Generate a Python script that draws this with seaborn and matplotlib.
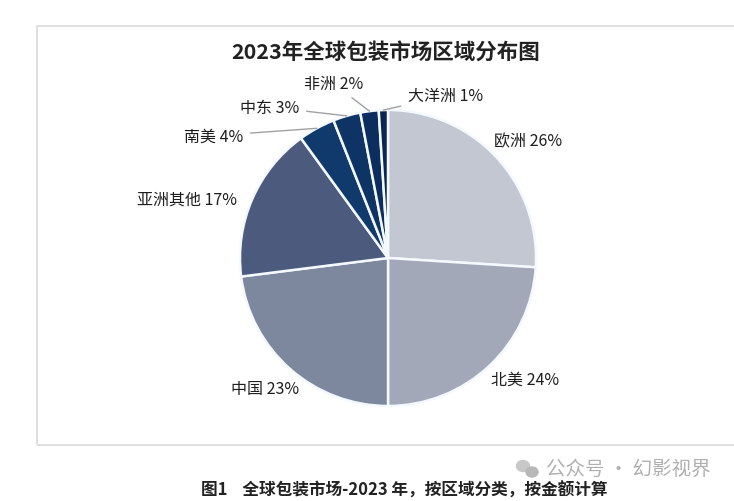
import numpy as np
import matplotlib
matplotlib.use('Agg')
import matplotlib.pyplot as plt
import seaborn as sns
from matplotlib.patches import Rectangle, Ellipse

# data
regions = ['欧洲', '北美', '中国', '亚洲其他', '南美', '中东', '非洲', '大洋洲']
shares = [26, 24, 23, 17, 4, 3, 2, 1]
colors = ['#c3c7d1', '#a3a8b8', '#7d879d', '#4c5a7e',
          '#113a6c', '#0e3466', '#0b2e5e', '#0a2650']

sns.set_theme(style="white")
plt.rcParams['font.family'] = ['Noto Sans CJK SC', 'DejaVu Sans']

W, H = 734, 502
fig = plt.figure(figsize=(W / 100, H / 100), dpi=100)
fig.patch.set_facecolor('white')

# light frame around the chart
fig.patches.append(Rectangle((37 / W, 1 - 446 / H), 720 / W, 419 / H,
                             transform=fig.transFigure, fill=False,
                             edgecolor='#dddddd', linewidth=1.3))

cx, cy, r = 388, 259, 148
ax = fig.add_axes([(cx - 1.25 * r) / W, (H - cy - 1.25 * r) / H,
                   2.5 * r / W, 2.5 * r / H])
wedges, _ = ax.pie(shares, colors=colors, startangle=90, counterclock=False,
                   radius=1, wedgeprops=dict(edgecolor='#f4f9ff', linewidth=1.8))
ax.set_xlim(-1.25, 1.25)
ax.set_ylim(-1.25, 1.25)
ax.set_aspect('equal')
ax.axis('off')

# label placement (text centres, data units)
label_pos = [(0.946, 0.79), (0.926, -0.818), (-0.83, -0.885), (-1.36, 0.40),
             (-1.18, 0.826), (-0.80, 1.02), (-0.37, 1.18), (0.39, 1.095)]
leader = [False, False, False, False, True, True, True, True]

for w, name, val, pos, lead in zip(wedges, regions, shares, label_pos, leader):
    txt = f'{name} {val}%'
    if lead:
        mid = np.deg2rad((w.theta1 + w.theta2) / 2)
        ax.annotate(txt, xy=(np.cos(mid), np.sin(mid)), xytext=pos,
                    ha='center', va='center', fontsize=11.5, color='#1e1e1e',
                    arrowprops=dict(arrowstyle='-', color='#a0a0a0', lw=1,
                                    shrinkA=3, shrinkB=0))
    else:
        ax.text(pos[0], pos[1], txt, ha='center', va='center',
                fontsize=11.5, color='#1e1e1e')

fig.text(386 / W, 1 - 52 / H, '2023年全球包装市场区域分布图', ha='center',
         va='center', fontsize=15.5, fontweight='bold', color='#222222')

# watermark
fig.patches.append(Ellipse((523 / W, 1 - 467 / H), 13 / W, 11 / H,
                           transform=fig.transFigure, color='#c8c8c8'))
fig.patches.append(Ellipse((532 / W, 1 - 473 / H), 12 / W, 10 / H,
                           transform=fig.transFigure, color='#b8b8b8'))
fig.text(628 / W, 1 - 469 / H, '公众号 · 幻影视界', ha='center', va='center',
         fontsize=14, color='#b0b0b0')

fig.text(404 / W, 1 - 491 / H, '图1    全球包装市场-2023 年，按区域分类，按金额计算',
         ha='center', va='center', fontsize=12, fontweight='bold',
         color='#222222')

fig.savefig('out.png', dpi=100)
